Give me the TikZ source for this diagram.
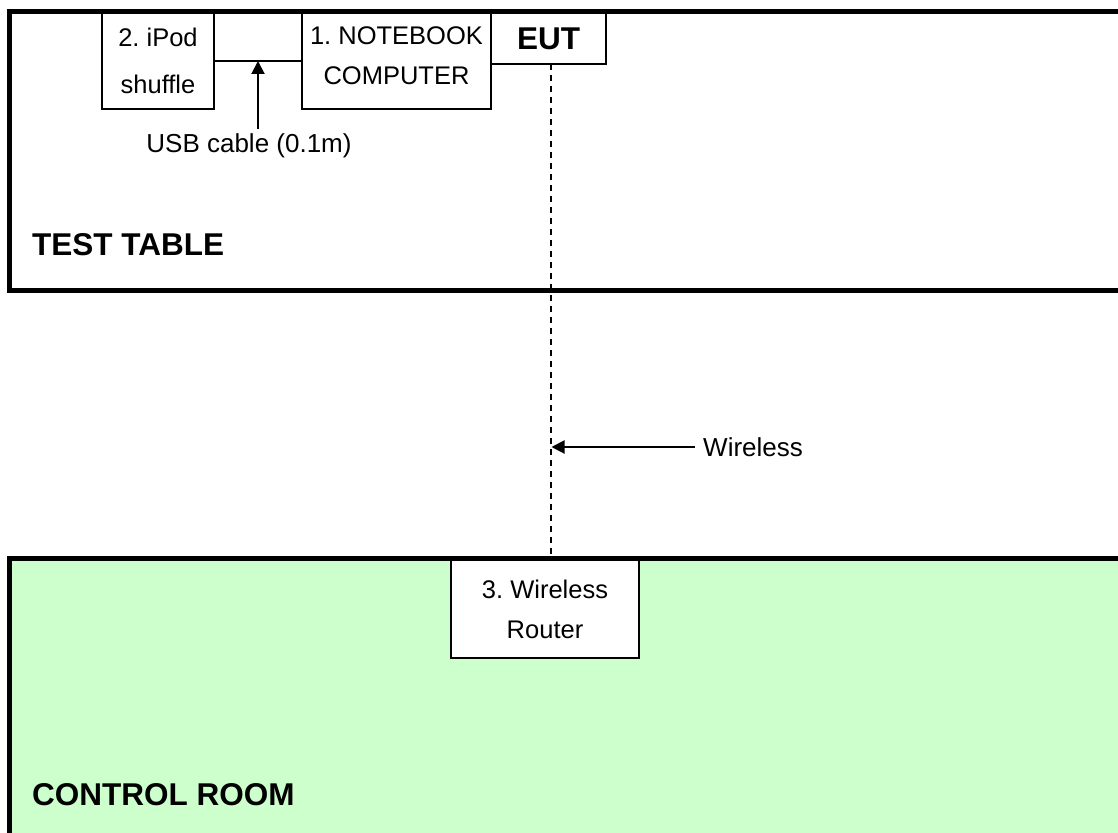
\documentclass[tikz,border=0pt]{standalone}
\usepackage{fontspec}
\setmainfont{Liberation Sans}
\usepackage{tikz}
\usetikzlibrary{positioning, calc, arrows.meta}
\definecolor{RoomGreen}{RGB}{204,255,204}
\frenchspacing
\tikzset{
    arealine/.style={
        draw=black, line width=5pt
    },
    boxnode/.style={
        draw, line width=2pt, fill=white, align=center, inner sep=0pt,
        outer sep=0pt, font=\fontsize{25.5}{40}\selectfont
    },
    ptr/.style={
        -{Triangle[length=13pt, width=13pt]}, line width=2pt
    },
    labelptr/.style={
        font=\fontsize{26}{30}\selectfont, inner sep=4pt
    },
    arealabel/.style={
        font=\fontsize{31.5}{36}\selectfont\bfseries, inner sep=0pt
    }
}

\begin{document}
\begin{tikzpicture}[x=1pt, y=-1pt,
            % Style cho duong vo tuyen
            radiolink/.style={
                line width=2pt, dash pattern=on 6pt off 5pt
            }
        ]
            \useasboundingbox (0,0) rectangle (1118,832);
            \clip (0,0) rectangle (1118,832);

            % --- 1. HAI KHU VUC ---
            \draw[arealine] (9.5,11.5) rectangle (1140,290);
            \draw[arealine, fill=RoomGreen] (9.5,558) rectangle (1140,850);
            \node[arealabel, anchor=base west] (table) at (32,255) {TEST TABLE};
            \node[arealabel, anchor=base west] (room) at (32,805) {CONTROL ROOM};

            % --- 2. THIET BI ---
            \node[boxnode, minimum width=112pt, minimum height=96pt, anchor=north west] (ipod) at (102,13)
                {2. iPod\\[7pt]shuffle};
            \node[boxnode, minimum width=189pt, minimum height=96pt, right=88pt of ipod.north east, anchor=north west] (nb)
                {1. NOTEBOOK\\COMPUTER\rule[-10pt]{0pt}{10pt}};
            \node[boxnode, minimum width=115pt, minimum height=51pt, right=0pt of nb.north east, anchor=north west,
                font=\fontsize{31.5}{36}\selectfont\bfseries] (eut) {EUT};
            \node[boxnode, minimum width=188pt, minimum height=98pt, anchor=north west] (router) at (451,560)
                {3. Wireless\\Router};

            % --- 3. KET NOI ---
            \coordinate (usbmid) at ($(ipod.east)!0.5!(nb.west)$);
            \draw[line width=2pt] (ipod.east) -- (nb.west);
            \node[labelptr, anchor=base] (usb) at (249,152) {USB cable (0.1m)};
            \draw[ptr] (usb.north -| usbmid) -- (usbmid);

            \draw[radiolink] ([xshift=2pt]eut.south) -- ([xshift=2pt]eut.south |- router.north);
            \node[labelptr, anchor=west] (wl) at (699,447) {Wireless};
            \draw[ptr, shorten <=4pt, shorten >=1pt] (wl.west) -- ([xshift=2pt]wl.west -| eut.south);

        \end{tikzpicture}
\end{document}
